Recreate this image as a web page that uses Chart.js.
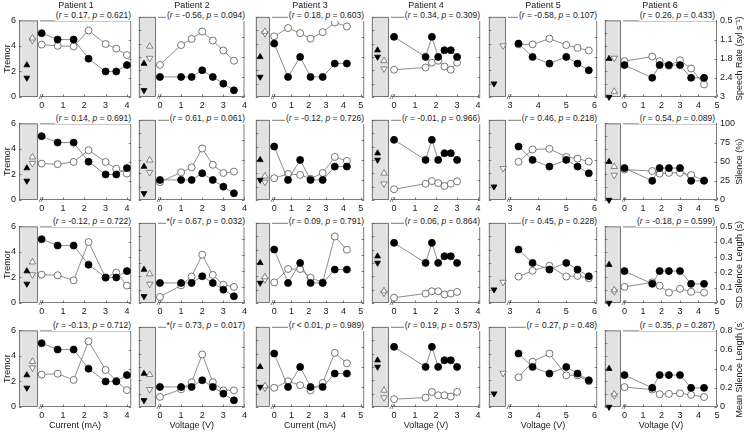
<!DOCTYPE html>
<html>
<head>
<meta charset="utf-8">
<script src="https://cdn.jsdelivr.net/npm/chart.js"></script>
<style>
  body { margin: 0; width: 747px; height: 433px; background: #fff; position: relative; overflow: hidden;
         font-family: "Liberation Sans", Arial, sans-serif; }
  canvas { position: absolute; }
  .lbl { position: absolute; font-size: 9px; line-height: 11px; color: #1a1a1a; white-space: nowrap; }
  .ann { background: #fff; padding: 0 1px; font-size: 8.5px; }
</style>
</head>
<body>
<script>
// ---- data ----
const patients = ['Patient 1', 'Patient 2', 'Patient 3', 'Patient 4', 'Patient 5', 'Patient 6'];
const xTitles = ['Current (mA)', 'Voltage (V)', 'Current (mA)', 'Voltage (V)', 'Voltage (V)', 'Voltage (V)'];

// stimulation settings per patient
const xVals = [
  [0, 0.75, 1.5, 2.2, 3, 3.5, 4],
  [0, 1, 1.5, 2, 2.5, 3, 3.5],
  [0, 0.8, 1.5, 2.1, 2.8, 3.5, 4.2],
  [0, 1.5, 1.8, 2.1, 2.4, 2.7, 3.0],
  [3.3, 3.8, 4.4, 5.0, 5.4, 5.8],
  [0, 1.5, 1.9, 2.4, 3.0, 3.6, 4.3]
];
// tremor (filled circles), same in every row
const tremor = [
  [5, 4.5, 4.5, 3, 2, 2, 2.5],
  [1.5, 1.5, 1.5, 2, 1.5, 1, 0.5],
  [4, 1.5, 3, 1.5, 1.5, 2.5, 2.5],
  [4.5, 3, 4.5, 3, 3.5, 3.5, 3],
  [4, 3, 2.5, 3, 2.5, 2],
  [2.5, 1.5, 2.5, 2.5, 2.5, 1.5, 1.5]
];
// tremor off stimulation: [up triangle, down triangle]
const tremorOff = [[2.5, 1.5], [2.5, 0.5], [3, 1.5], [3.5, 3], [null, 1], [3, 0]];

const speechRate = [
  [1.29, 1.33, 1.35, 0.83, 1.27, 1.42, 1.63],
  [2.0, 1.38, 1.19, 0.96, 1.24, 1.55, 1.87],
  [1.11, 0.85, 1.01, 1.18, 0.98, 0.68, 0.80],
  [2.15, 2.08, 1.93, 1.87, 2.05, 2.15, 1.93],
  [1.36, 1.36, 1.18, 1.38, 1.47, 1.55],
  [1.83, 1.68, 1.83, 1.98, 1.80, 2.07, 2.59]
];
const speechRateOff = [[1.08, 1.15], [1.42, 1.79], [0.96, 1.02], [1.87, 2.12], [null, 1.40], [2.82, 1.73]];

const silencePct = [
  [47.5, 46.7, 49.7, 65, 49.7, 40.7, 34.5],
  [22.3, 34.5, 40.7, 64.2, 43.9, 33.7, 35.4],
  [27.2, 32.5, 31.3, 26.5, 33.7, 53.7, 48.8],
  [13.4, 20.3, 23.6, 21.1, 17.5, 20.3, 23.2],
  [47.6, 63, 63.8, 53.7, 51.6, 48],
  [39.8, 37.8, 34.5, 35.4, 35.4, 32.5, 25.7]
];
const silencePctOff = [[56, 48], [49.6, 34.5], [29.7, 22.4], [33.3, 20.3], [null, 39.4], [43.5, 32.5]];

const sdSilence = [
  [0.185, 0.181, 0.148, 0.398, 0.165, 0.199, 0.114],
  [0.038, 0.11, 0.165, 0.301, 0.175, 0.114, 0.1],
  [0.128, 0.212, 0.212, 0.158, 0.128, 0.415, 0.332],
  [0.033, 0.059, 0.073, 0.073, 0.053, 0.059, 0.069],
  [0.165, 0.201, 0.232, 0.165, 0.169, 0.154],
  [0.105, 0.135, 0.113, 0.068, 0.093, 0.073, 0.068]
];
const sdSilenceOff = [[0.267, 0.185], [0.181, 0.118], [0.162, 0.146], [0.075, 0.063], [null, 0.13], [0.085, 0.075]];

const meanSilence = [
  [0.338, 0.348, 0.283, 0.686, 0.387, 0.273, 0.176],
  [0.101, 0.176, 0.247, 0.524, 0.247, 0.166, 0.166],
  [0.192, 0.257, 0.217, 0.165, 0.24, 0.54, 0.436],
  [0.078, 0.094, 0.15, 0.117, 0.117, 0.104, 0.15],
  [0.296, 0.452, 0.533, 0.316, 0.316, 0.257],
  [0.208, 0.182, 0.133, 0.137, 0.143, 0.127, 0.104]
];
const meanSilenceOff = [[0.475, 0.41], [0.322, 0.176], [0.21, 0.19], [0.166, 0.094], [null, 0.338], [0.135, 0.12]];

const stats = [
  ['(r = 0.17, p = 0.621)', '(r = -0.56, p = 0.094)', '(r = 0.18, p = 0.603)', '(r = 0.34, p = 0.309)', '(r = -0.58, p = 0.107)', '(r = 0.26, p = 0.433)'],
  ['(r = 0.14, p = 0.691)', '(r = 0.61, p = 0.061)', '(r = -0.12, p = 0.726)', '(r = -0.01, p = 0.966)', '(r = 0.46, p = 0.218)', '(r = 0.54, p = 0.089)'],
  ['(r = -0.12, p = 0.722)', '*(r = 0.67, p = 0.032)', '(r = 0.09, p = 0.791)', '(r = 0.06, p = 0.864)', '(r = 0.45, p = 0.228)', '(r = -0.18, p = 0.599)'],
  ['(r = -0.13, p = 0.712)', '*(r = 0.73, p = 0.017)', '(r < 0.01, p = 0.989)', '(r = 0.19, p = 0.573)', '(r = 0.27, p = 0.48)', '(r = 0.35, p = 0.287)']
];

const tremorTicks = [0, 1, 2, 3, 4, 5, 6];
const xTicks = [[0, 1, 2, 3, 4], [0, 1, 2, 3, 4], [0, 1, 2, 3, 4, 5], [0, 1, 2, 3, 4], [3, 4, 5, 6], [0, 1, 2, 3, 4, 5]];
const xMax = [4.2, 4, 5.2, 4.1, 6.1, 5];

const rightTitles = ['Speech Rate (syl s\u207B\u00B9)', 'Silence (%)', 'SD Silence Length (s)', 'Mean Silence Length (s)'];
const rightRange = [[0.5, 3], [0, 100], [0, 0.5], [0, 0.8]];
const rightTickVals = [[0.5, 1.125, 1.75, 2.375, 3], [0, 25, 50, 75, 100], [0, 0.1, 0.2, 0.3, 0.4, 0.5], [0, 0.2, 0.4, 0.6, 0.8]];
const rightTickLabels = [['0.5', '1.1', '1.8', '2.4', '3'], ['0', '25', '50', '75', '100'],
  ['0', '0.1', '0.2', '0.3', '0.4', '0.5'], ['0', '0.2', '0.4', '0.6', '0.8']];

const measures = [speechRate, silencePct, sdSilence, meanSilence];
const measuresOff = [speechRateOff, silencePctOff, sdSilenceOff, meanSilenceOff];

// ---- layout ----
const L = [19, 137, 254, 370, 487, 603];
const W = [114, 110, 112, 112, 112, 114];
const GRAY = [19, 18, 15, 18, 18, 16];     // width of the "off" box
const FIRST = [23, 22, 19, 23, 22, 20];    // offset of first x tick from panel left
const T = [15, 118, 221, 325];
const H = 82;
const offSlot = [[0.42, 0.72], [0.3, 0.63], [0.3, 0.63], [0.33, 0.7], [0.3, 0.82], [0.27, 0.6]];
const FAM = '"Liberation Sans", Arial, sans-serif';
const font = { family: FAM, size: 9 };

const panelPlugin = {
  id: 'panel',
  beforeDatasetsDraw(chart, args, opts) {
    const { ctx, chartArea: a, scales } = chart;
    const gx = Math.round(scales.xg.getPixelForValue(1));
    ctx.save();
    ctx.fillStyle = '#e2e2e2';
    ctx.fillRect(a.left, a.top, gx - a.left, a.bottom - a.top);
    ctx.strokeStyle = '#5a5a5a';
    ctx.lineWidth = 0.8;
    ctx.strokeRect(a.left + 0.5, a.top + 0.5, gx - a.left - 1, a.bottom - a.top - 1);
    const mx = gx + 2;
    ctx.beginPath();
    ctx.moveTo(mx, a.top + 0.5);
    ctx.lineTo(a.right - 0.5, a.top + 0.5);
    ctx.lineTo(a.right - 0.5, a.bottom - 0.5);
    ctx.lineTo(mx, a.bottom - 0.5);
    // inward ticks
    scales.x.ticks.forEach(t => {
      const px = Math.round(scales.x.getPixelForValue(t.value)) + 0.5;
      ctx.moveTo(px, a.bottom); ctx.lineTo(px, a.bottom - 2.5);
    });
    scales.y.ticks.forEach(t => {
      const py = Math.round(scales.y.getPixelForValue(t.value)) + 0.5;
      ctx.moveTo(a.left, py); ctx.lineTo(a.left + 2.5, py);
    });
    scales.y2.ticks.forEach(t => {
      const py = Math.round(scales.y2.getPixelForValue(t.value)) + 0.5;
      ctx.moveTo(a.right, py); ctx.lineTo(a.right - 2.5, py);
    });
    ctx.stroke();
    // axis break mark
    ctx.fillStyle = '#333';
    ctx.font = 'italic 7px ' + FAM;
    ctx.textAlign = 'center';
    ctx.textBaseline = 'middle';
    ctx.fillText('//', mx + 1, a.bottom);
    ctx.restore();
  },
  afterDraw(chart, args, opts) {
    if (!opts.title) return;
    const { ctx, chartArea: a } = chart;
    ctx.save();
    ctx.translate(a.right + 23, (a.top + a.bottom) / 2);
    ctx.rotate(-Math.PI / 2);
    ctx.fillStyle = '#1a1a1a';
    ctx.font = '9px ' + FAM;
    ctx.textAlign = 'center';
    ctx.textBaseline = 'middle';
    ctx.fillText(opts.title, 0, 0);
    ctx.restore();
  }
};

function pts(xs, ys) { return xs.map((x, i) => ({ x: x, y: ys[i] })); }

function makePanel(r, c) {
  const padL = c === 0 ? 19 : 3, padR = c === 5 ? 30 : 3, padT = 3, padB = r === 3 ? 26 : 13;
  const w = padL + W[c] + padR, h = padT + H + padB;
  const cv = document.createElement('canvas');
  cv.width = w; cv.height = h;
  cv.style.left = (L[c] - padL) + 'px';
  cv.style.top = (T[r] - padT) + 'px';
  cv.style.width = w + 'px';
  cv.style.height = h + 'px';
  document.body.appendChild(cv);

  const ppu = (W[c] - FIRST[c]) / (xMax[c] - xTicks[c][0]);
  const xLo = xTicks[c][0] - FIRST[c] / ppu;

  const datasets = [
    { data: pts(xVals[c], tremor[c]), xAxisID: 'x', yAxisID: 'y', showLine: true,
      borderColor: '#707070', borderWidth: 0.8, pointRadius: 3.5,
      pointBackgroundColor: '#000', pointBorderColor: '#000', pointBorderWidth: 0.8, clip: false },
    { data: pts(xVals[c], measures[r][c]), xAxisID: 'x', yAxisID: 'y2', showLine: true,
      borderColor: '#707070', borderWidth: 0.8, pointRadius: 3.5,
      pointBackgroundColor: '#fff', pointBorderColor: '#555', pointBorderWidth: 0.8, clip: false }
  ];
  const tri = (val, slot, axis, filled, down) => {
    if (val === null) return;
    datasets.push({ data: [{ x: slot, y: val }], xAxisID: 'xg', yAxisID: axis, showLine: false,
      pointStyle: 'triangle', pointRotation: down ? 180 : 0, pointRadius: filled ? 3.4 : 3.7,
      pointBackgroundColor: filled ? '#000' : '#fff', pointBorderColor: filled ? '#000' : '#666',
      pointBorderWidth: 0.8, clip: false });
  };
  const g = W[c] / GRAY[c];
  tri(tremorOff[c][0], offSlot[c][0], 'y', true, false);
  tri(tremorOff[c][1], offSlot[c][0], 'y', true, true);
  tri(measuresOff[r][c][0], offSlot[c][1], 'y2', false, false);
  tri(measuresOff[r][c][1], offSlot[c][1], 'y2', false, true);

  new Chart(cv, {
    type: 'scatter',
    data: { datasets },
    options: {
      responsive: false, animation: false, events: [],
      layout: { padding: { top: padT, left: 0, right: 0, bottom: 0 } },
      plugins: { legend: { display: false }, tooltip: { enabled: false },
        panel: { title: c === 5 ? rightTitles[r] : null } },
      scales: {
        x: { type: 'linear', position: 'bottom', min: xLo, max: xMax[c],
          grid: { display: false, drawTicks: false }, border: { display: false },
          afterBuildTicks: s => { s.ticks = xTicks[c].map(v => ({ value: v })); },
          ticks: { autoSkip: false, maxRotation: 0, padding: 3, color: '#1a1a1a', font },
          title: { display: r === 3, text: xTitles[c], color: '#1a1a1a', font, padding: { top: 0, bottom: 2 } },
          afterFit: s => { s.height = padB; } },
        xg: { type: 'linear', axis: 'x', display: false, min: 0, max: g },
        y: { type: 'linear', position: 'left', min: 0, max: 6,
          grid: { display: false, drawTicks: false }, border: { display: false },
          afterBuildTicks: s => { s.ticks = tremorTicks.map(v => ({ value: v })); },
          ticks: { display: c === 0, padding: 3, color: '#1a1a1a', font },
          title: { display: c === 0, text: 'Tremor', color: '#1a1a1a', font, padding: { top: 2, bottom: 0 } },
          afterFit: s => { s.width = padL; } },
        y2: { type: 'linear', position: 'right', min: rightRange[r][0], max: rightRange[r][1], reverse: r === 0,
          grid: { display: false, drawTicks: false }, border: { display: false },
          afterBuildTicks: s => { s.ticks = rightTickVals[r].map(v => ({ value: v })); },
          ticks: { display: c === 5, padding: 3, color: '#1a1a1a', font,
            callback: (v, i) => rightTickLabels[r][i] },
          afterFit: s => { s.width = padR; } }
      }
    },
    plugins: [panelPlugin]
  });

  const ann = document.createElement('div');
  ann.className = 'lbl ann';
  ann.innerHTML = stats[r][c].replace(/\b([rp])\b/g, '<i>$1</i>');
  ann.style.right = (747 - (L[c] + W[c]) + 1) + 'px';
  ann.style.top = (T[r] - 5) + 'px';
  document.body.appendChild(ann);
}

for (let r = 0; r < 4; r++) {
  for (let c = 0; c < 6; c++) makePanel(r, c);
}
patients.forEach((p, c) => {
  const d = document.createElement('div');
  d.className = 'lbl';
  d.textContent = p;
  d.style.left = (L[c] + W[c] / 2) + 'px';
  d.style.top = '0px';
  d.style.transform = 'translateX(-50%)';
  document.body.appendChild(d);
});
</script>
</body>
</html>
